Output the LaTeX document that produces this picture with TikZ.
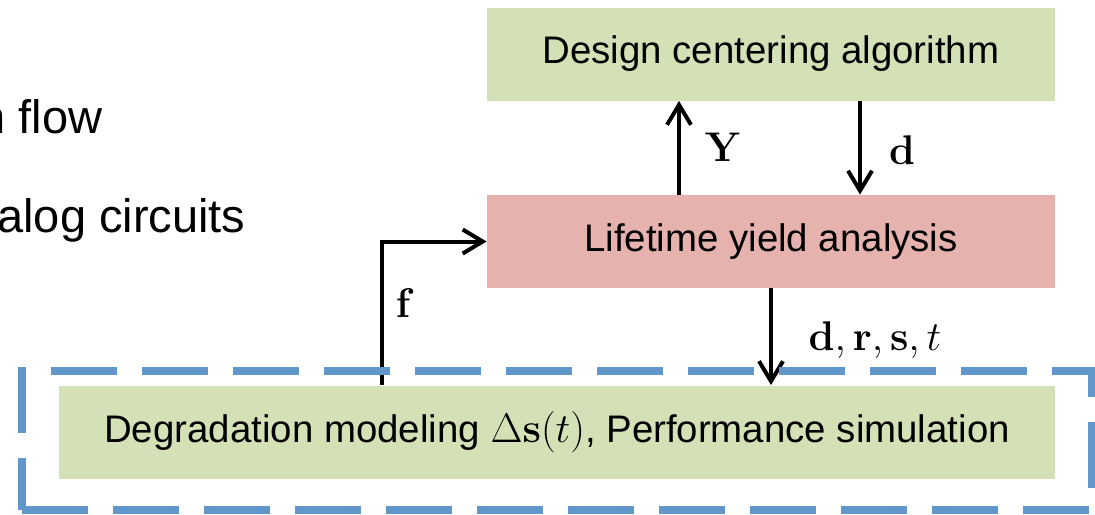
\documentclass[tikz,border=0pt]{standalone}
\usepackage[no-math]{fontspec}
\setmainfont{Liberation Sans}
\usetikzlibrary{positioning,arrows.meta,calc}
\definecolor{flowgreen}{HTML}{D4E0B5}
\definecolor{flowred}{HTML}{E5B2AE}
\definecolor{groupblue}{HTML}{6197CB}

\begin{document}
\begin{tikzpicture}[x=0.5pt,y=-0.5pt,
 box/.style={minimum width=284pt,minimum height=46.5pt,inner sep=0pt,font=\fontsize{19.2}{23}\selectfont},
 algo/.style={box,fill=flowgreen}, yieldbox/.style={box,fill=flowred},
 slide/.style={anchor=base west,inner sep=0pt,font=\fontsize{23.5}{28}\selectfont},
 lbl/.style={inner sep=0pt,font=\fontsize{22}{26}\selectfont},
 arr/.style={-{Straight Barb[length=10pt,width=12pt]},line width=2pt},
 group/.style={draw=groupblue,line width=4pt,dash pattern=on 33pt off 12.5pt,minimum width=535pt,minimum height=69.5pt,inner sep=0pt}]
\useasboundingbox (0,0) rectangle (1095,514);
\node[slide] (flowtxt) at (-21,133) {n flow};
\node[slide] (circtxt) at (-3,232) {alog circuits};
\node[algo] (center) at (771,54) {Design centering algorithm};
\node[yieldbox] (yield) at (771,241.5) {Lifetime yield analysis};
\node[algo,minimum width=498pt] (sim) at (557,432) {Degradation modeling $\Delta\mathbf{s}(t)$, Performance simulation};
\draw[arr] ([xshift=-46pt]yield.north) -- ([xshift=-46pt]center.south);
\draw[arr] ([xshift=44.5pt]center.south) -- ([xshift=44.5pt]yield.north);
\draw[arr] (yield.south) -- (yield.south |- sim.north);
\draw[arr] ([xshift=-87.5pt]sim.north) |- (yield.west);
\node[lbl] (ylab) at (723,147) {$\mathbf{Y}$};
\node[lbl] (dlab) at (902,150) {$\mathbf{d}$};
\node[lbl] (flab) at (405,303) {$\mathbf{f}$};
\node[lbl] (drst) at (875,340) {$\mathbf{d},\mathbf{r},\mathbf{s},t$};
\node[group] (simgroup) at (557,440.5) {};
\end{tikzpicture}
\end{document}
